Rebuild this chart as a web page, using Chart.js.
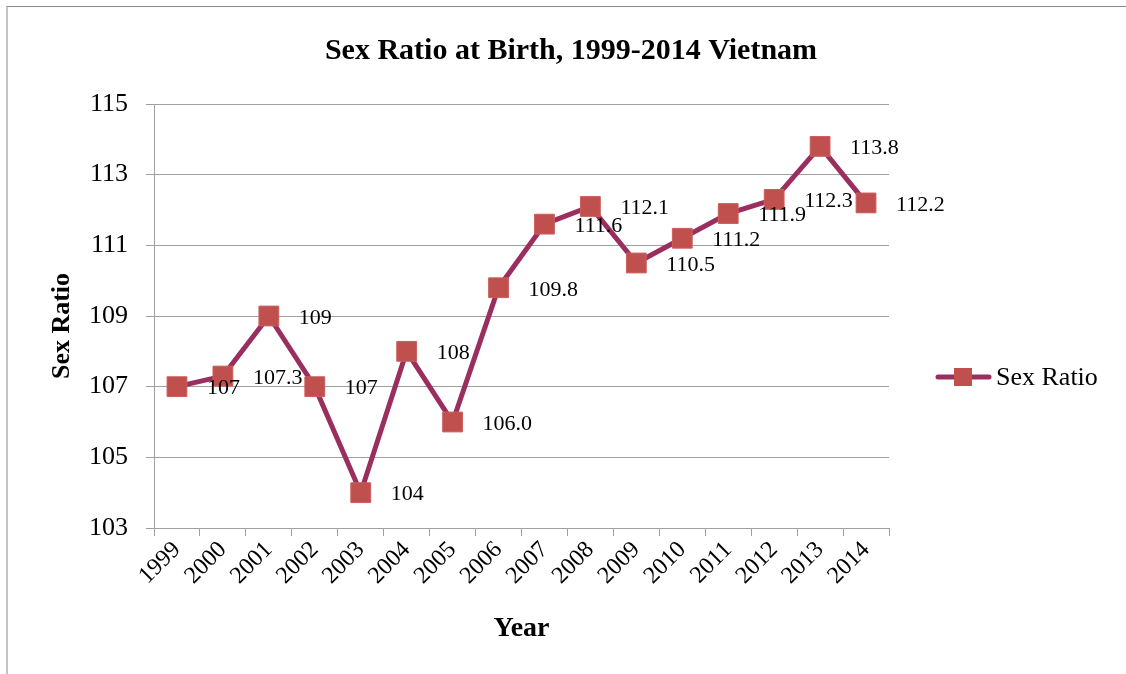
<!DOCTYPE html>
<html>
<head>
<meta charset="utf-8">
<script src="https://cdn.jsdelivr.net/npm/chart.js@4.4.0/dist/chart.umd.min.js"></script>
<style>
  html, body { margin: 0; padding: 0; background: #fff; }
  #wrap { position: relative; width: 1126px; height: 674px; overflow: hidden; }
  #frame { position: absolute; left: 6px; top: 6px; width: 1200px; height: 700px;
           border-left: 2px solid #c4c4c4; border-top: 1px solid #8a8a8a; }
  canvas { position: absolute; left: 0; top: 0; }
</style>
</head>
<body>
<div id="wrap">
  <div id="frame"></div>
  <canvas id="chart" width="1126" height="674"></canvas>
</div>
<script>
const years = ["1999", "2000", "2001", "2002", "2003", "2004", "2005", "2006",
               "2007", "2008", "2009", "2010", "2011", "2012", "2013", "2014"];
const sexRatio = [107, 107.3, 109, 107, 104, 108, 106, 109.8,
                  111.6, 112.1, 110.5, 111.2, 111.9, 112.3, 113.8, 112.2];
const pointLabels = ["107", "107.3", "109", "107", "104", "108", "106.0", "109.8",
                     "111.6", "112.1", "110.5", "111.2", "111.9", "112.3", "113.8", "112.2"];
const yTicks = [103, 105, 107, 109, 111, 113, 115];

const FONT = "'Liberation Serif', 'DejaVu Serif', serif";
const LINE_COLOR = "#9a2f5f";
const MARKER_COLOR = "#c0504d";

// value labels to the right of each marker, plus title, y title and legend
const extras = {
  id: "extras",
  afterDatasetsDraw(chart) {
    const ctx = chart.ctx;
    const meta = chart.getDatasetMeta(0);
    ctx.save();
    ctx.fillStyle = "#000";
    ctx.font = `22px ${FONT}`;
    ctx.textAlign = "left";
    ctx.textBaseline = "middle";
    meta.data.forEach((pt, i) => {
      ctx.fillText(pointLabels[i], pt.x + 30, pt.y + 2);
    });
    ctx.restore();
  },
  afterDraw(chart) {
    const ctx = chart.ctx;
    ctx.save();
    ctx.fillStyle = "#000";
    ctx.font = `bold 30px ${FONT}`;
    ctx.textAlign = "center";
    ctx.textBaseline = "middle";
    ctx.fillText("Sex Ratio at Birth, 1999-2014 Vietnam", 571, 51);

    // y axis title, sits a little below the plot's middle
    ctx.save();
    ctx.translate(62, 326);
    ctx.rotate(-Math.PI / 2);
    ctx.font = `bold 26px ${FONT}`;
    ctx.fillText("Sex Ratio", 0, 0);
    ctx.restore();

    // legend
    const ly = 377;
    ctx.strokeStyle = LINE_COLOR;
    ctx.lineWidth = 5;
    ctx.lineCap = "round";
    ctx.beginPath();
    ctx.moveTo(938, ly);
    ctx.lineTo(989, ly);
    ctx.stroke();
    ctx.fillStyle = MARKER_COLOR;
    ctx.fillRect(954, ly - 9, 18, 18);
    ctx.fillStyle = "#000";
    ctx.font = `26px ${FONT}`;
    ctx.textAlign = "left";
    ctx.fillText("Sex Ratio", 996, ly + 1);
    ctx.restore();
  }
};

new Chart(document.getElementById("chart"), {
  type: "line",
  data: {
    labels: years,
    datasets: [{
      label: "Sex Ratio",
      data: sexRatio,
      borderColor: LINE_COLOR,
      borderWidth: 5,
      tension: 0,
      pointStyle: "rect",
      pointRadius: 14,
      pointHoverRadius: 14,
      pointBackgroundColor: MARKER_COLOR,
      pointBorderColor: "#cc5f5b",
      pointBorderWidth: 1
    }]
  },
  options: {
    responsive: false,
    animation: false,
    devicePixelRatio: 1,
    layout: { padding: { left: 45, top: 104, right: 237, bottom: 24 } },
    plugins: {
      legend: { display: false },
      title: { display: false },
      tooltip: { enabled: false }
    },
    scales: {
      x: {
        offset: true,
        grid: { offset: true, drawOnChartArea: false, tickLength: 8, color: "#a0a0a0" },
        border: { color: "#a0a0a0", width: 1 },
        ticks: { color: "#000", font: { family: FONT, size: 24 }, minRotation: 45, maxRotation: 45, padding: 0 },
        title: { display: true, text: "Year", color: "#000", font: { family: FONT, size: 28, weight: "bold" }, padding: { top: 4, bottom: 4 } },
        afterFit(scale) { scale.height = 122; }
      },
      y: {
        min: 103,
        max: 115,
        afterBuildTicks(scale) { scale.ticks = yTicks.map(v => ({ value: v })); },
        grid: { color: "#a0a0a0", tickLength: 8 },
        border: { color: "#a0a0a0", width: 1 },
        ticks: { color: "#000", font: { family: FONT, size: 26 }, padding: 18 },
        afterFit(scale) { scale.width = 109; }
      }
    }
  },
  plugins: [extras]
});
</script>
</body>
</html>
